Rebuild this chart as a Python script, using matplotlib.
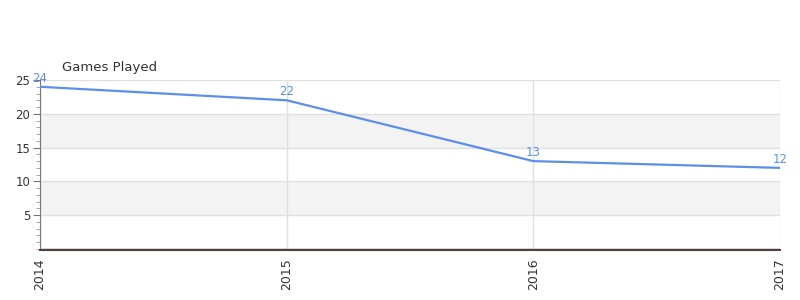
import matplotlib

matplotlib.use("Agg")

import matplotlib.pyplot as plt
from matplotlib.ticker import MultipleLocator

years = [2014, 2015, 2016, 2017]
games = [24, 22, 13, 12]
y_ticks = [5, 10, 15, 20, 25]

LINE = "#5b8fe8"
TEXT = "#333333"
GRID = "#e0e0e0"
BAND = "#f3f3f3"

fig = plt.figure(figsize=(8, 3), dpi=100)
ax = fig.add_axes([0.05, 0.17, 0.925, 0.5633])

for spine in ("top", "right"):
    ax.spines[spine].set_visible(False)
ax.spines["left"].set_color("#777777")
ax.spines["bottom"].set_color("#444444")
ax.spines["bottom"].set_linewidth(1.5)
ax.spines["bottom"].set_position(("outward", 1))

# alternating bands
for lo, hi in [(5, 10), (15, 20)]:
    ax.axhspan(lo, hi, color=BAND, zorder=0, lw=0)
for y in y_ticks:
    ax.axhline(y, color=GRID, lw=1, zorder=1)
for x in years:
    ax.axvline(x, color=GRID, lw=1, zorder=1)
# thin red zero line just above the axis
ax.axhline(0.07, color="#cc2222", lw=1.0, zorder=2)

ax.plot(years, games, color=LINE, lw=1.6, zorder=3)
for x, y in zip(years, games):
    ax.annotate(str(y), (x, y), xytext=(0, 1.5), textcoords="offset points",
                ha="center", va="bottom", color=LINE, fontsize=8.5)

ax.set_xlim(years[0], years[-1])
ax.set_ylim(0, 25)
ax.set_xticks(years)
ax.set_xticklabels([str(y) for y in years], rotation=90)
ax.set_yticks(y_ticks)
ax.yaxis.set_minor_locator(MultipleLocator(1))
ax.tick_params(axis="y", which="major", length=5, color="#777777",
               labelsize=8.5, labelcolor=TEXT, pad=2)
ax.tick_params(axis="y", which="minor", length=3, color="#999999")
ax.tick_params(axis="x", length=0, labelsize=9, labelcolor=TEXT, pad=6)

fig.text(62 / 800, 1 - 67 / 300, "Games Played", color=TEXT, fontsize=9.5,
         ha="left", va="center")

fig.savefig("out.png", dpi=100, facecolor="white")
